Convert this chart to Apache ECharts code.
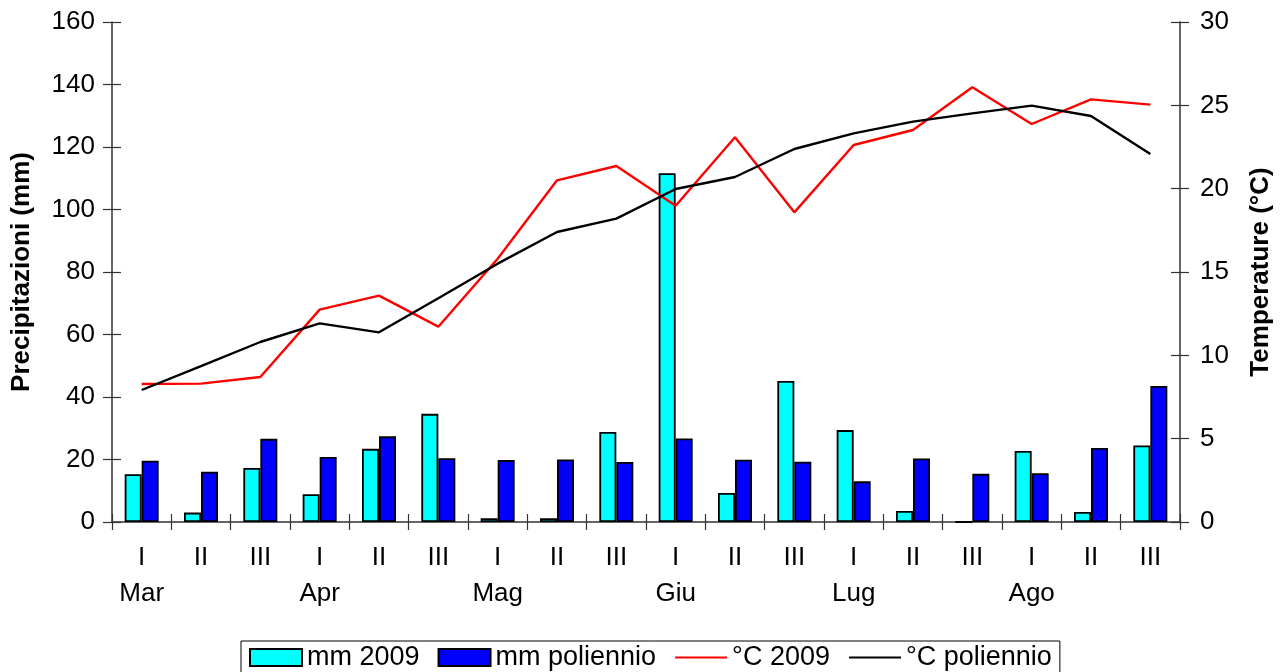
<!DOCTYPE html>
<html><head><meta charset="utf-8">
<script src="https://cdn.jsdelivr.net/npm/echarts@6/dist/echarts.min.js"></script>
<style>html,body{margin:0;padding:0;background:#fff}#c{width:1280px;height:672px}</style>
</head><body><div id="c"></div>
<script>
const decades = ['I','II','III','I','II','III','I','II','III','I','II','III','I','II','III','I','II','III'];
const months = ['Mar','','','Apr','','','Mag','','','Giu','','','Lug','','','Ago','',''];
const mm2009 = [15.3, 3.0, 17.3, 8.9, 23.4, 34.6, 1.2, 1.2, 28.8, 111.6, 9.3, 45.1, 29.4, 3.5, 0, 22.7, 3.2, 24.5];
const mmPoliennio = [19.6, 16.1, 26.6, 20.8, 27.4, 20.4, 19.8, 20.0, 19.2, 26.7, 19.9, 19.3, 13.0, 20.3, 15.4, 15.6, 23.7, 43.5];
const t2009 = [8.28, 8.3, 8.7, 12.74, 13.58, 11.72, 15.8, 20.5, 21.36, 18.98, 23.08, 18.58, 22.62, 23.52, 26.08, 23.88, 25.36, 25.04];
const tPoliennio = [7.92, 9.35, 10.8, 11.92, 11.38, 13.42, 15.5, 17.4, 18.2, 19.98, 20.7, 22.38, 23.32, 24.02, 24.52, 24.98, 24.36, 22.08];
const seriesNames = ['mm 2009', 'mm poliennio', '°C 2009', '°C poliennio'];
const leftAxisName = 'Precipitazioni (mm)';
const rightAxisName = 'Temperature (°C)';

const FONT = 'Liberation Sans, Arial, sans-serif';
const FS = 26;
const axisCol = '#333';
const chart = echarts.init(document.getElementById('c'), null, {renderer: 'canvas'});

const yBase = (pos, min, max, interval) => ({
  type: 'value', position: pos, min: min, max: max, interval: interval,
  splitLine: {show: false},
  axisLine: {show: true, lineStyle: {color: axisCol, width: 1.5}},
  axisTick: {show: true, length: 9, lineStyle: {color: axisCol, width: 1.2}}
});

chart.setOption({
  animation: false,
  backgroundColor: '#fff',
  textStyle: {fontFamily: FONT},
  grid: {left: 112, right: 100, top: 22, bottom: 150, containLabel: false, outerBoundsMode: 'none'},
  legend: {
    data: [
      {name: seriesNames[0], icon: 'rect'},
      {name: seriesNames[1], icon: 'rect'},
      {name: seriesNames[2], itemStyle: {opacity: 0}},
      {name: seriesNames[3], itemStyle: {opacity: 0}}
    ],
    top: 641, left: 241,
    padding: [3, 8, 3, 8],
    itemWidth: 52, itemHeight: 17, itemGap: 18,
    borderColor: '#000', borderWidth: 1,
    textStyle: {fontFamily: FONT, fontSize: 27, color: '#000'}
  },
  xAxis: [{
    type: 'category', data: decades, boundaryGap: true, position: 'bottom',
    axisLine: {show: true, lineStyle: {color: axisCol, width: 1.5}},
    axisTick: {show: true, length: 8, lineStyle: {color: axisCol, width: 1.2}},
    axisLabel: {
      interval: 0, margin: 18, fontSize: FS, color: '#000', fontFamily: FONT, lineHeight: 36,
      formatter: (v, i) => v + '\n' + months[i]
    }
  }, {
    type: 'category', data: decades, boundaryGap: true, position: 'bottom',
    axisLine: {show: false},
    axisTick: {show: true, inside: true, length: 8, lineStyle: {color: axisCol, width: 1.2}},
    axisLabel: {show: false}
  }],
  yAxis: [
    Object.assign(yBase('left', 0, 160, 20), {
      name: leftAxisName, nameLocation: 'middle', nameGap: 77, nameRotate: 90,
      nameTextStyle: {fontSize: FS, fontWeight: 'bold', color: '#000', fontFamily: FONT},
      axisLabel: {margin: 17, fontSize: FS, color: '#000', fontFamily: FONT}
    }),
    Object.assign(yBase('right', 0, 30, 5), {
      name: rightAxisName, nameLocation: 'middle', nameGap: 68, nameRotate: 90,
      nameTextStyle: {fontSize: FS, fontWeight: 'bold', color: '#000', fontFamily: FONT},
      axisLabel: {margin: 20, fontSize: FS, color: '#000', fontFamily: FONT}
    }),
    Object.assign(yBase('left', 0, 160, 20), {
      axisLine: {show: false}, axisLabel: {show: false},
      axisTick: {show: true, inside: true, length: 9, lineStyle: {color: axisCol, width: 1.2}}
    }),
    Object.assign(yBase('right', 0, 30, 5), {
      axisLine: {show: false}, axisLabel: {show: false},
      axisTick: {show: true, inside: true, length: 9, lineStyle: {color: axisCol, width: 1.2}}
    })
  ],
  series: [
    {name: seriesNames[0], type: 'bar', data: mm2009, xAxisIndex: 0, yAxisIndex: 0,
     barWidth: 17, barGap: '0%',
     itemStyle: {color: '#00FFFF', borderColor: '#000', borderWidth: 1.8}},
    {name: seriesNames[1], type: 'bar', data: mmPoliennio, xAxisIndex: 0, yAxisIndex: 0,
     barWidth: 17, barGap: '0%',
     itemStyle: {color: '#0000FF', borderColor: '#000', borderWidth: 1.8}},
    {name: seriesNames[2], type: 'line', data: t2009, xAxisIndex: 0, yAxisIndex: 1,
     symbol: 'none', lineStyle: {color: '#FF0000', width: 2.4}, itemStyle: {color: '#FF0000'}},
    {name: seriesNames[3], type: 'line', data: tPoliennio, xAxisIndex: 0, yAxisIndex: 1,
     symbol: 'none', lineStyle: {color: '#000', width: 2.4}, itemStyle: {color: '#000'}}
  ]
});
</script>
</body></html>
